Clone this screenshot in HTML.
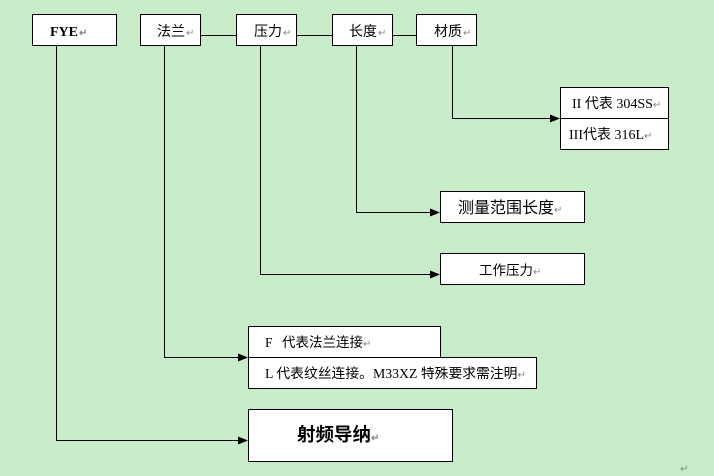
<!DOCTYPE html>
<html><head><meta charset="utf-8"><style>
html,body{margin:0;padding:0;background:#c8ecca;}
svg{display:block;}
text{font-family:"Liberation Serif","Noto Sans CJK SC",serif;fill:#000;}
.r{fill:#7a8a7a;font-family:"Liberation Sans",sans-serif;font-size:10px;}
</style></head><body>
<svg width="714" height="476" viewBox="0 0 714 476" xmlns="http://www.w3.org/2000/svg">
<rect x="0" y="0" width="714" height="476" fill="#c8ecca"/>
<g stroke="#000" stroke-width="1" fill="none">
  <path d="M56.5 45 V440.5 H240"/>
  <path d="M164.5 45 V357.5 H240"/>
  <path d="M260.5 45 V274.5 H432"/>
  <path d="M356.5 45 V212.5 H432"/>
  <path d="M452.5 45 V118.5 H552"/>
  <path d="M200 35.5 H236 M296 35.5 H332 M392 35.5 H416"/>
</g>
<g fill="#000">
  <polygon points="248,440.5 238,436.5 238,444.5"/>
  <polygon points="248,357.5 238,353.5 238,361.5"/>
  <polygon points="440,274.5 430,270.5 430,278.5"/>
  <polygon points="440,212.5 430,208.5 430,216.5"/>
  <polygon points="560,118.5 550,114.5 550,122.5"/>
</g>
<g fill="#fff" stroke="#000" stroke-width="1">
  <rect x="32.5" y="14.5" width="84" height="31"/>
  <rect x="140.5" y="14.5" width="60" height="31"/>
  <rect x="236.5" y="14.5" width="60" height="31"/>
  <rect x="332.5" y="14.5" width="60" height="31"/>
  <rect x="416.5" y="14.5" width="60" height="31"/>
  <rect x="560.5" y="87.5" width="108" height="31"/>
  <rect x="560.5" y="118.5" width="108" height="31"/>
  <rect x="440.5" y="191.5" width="144" height="31"/>
  <rect x="440.5" y="253.5" width="144" height="31"/>
  <rect x="248.5" y="326.5" width="192" height="31"/>
  <rect x="248.5" y="357.5" width="288" height="31"/>
  <rect x="248.5" y="409.5" width="204" height="52"/>
</g>
<text x="50" y="36" font-size="14" font-weight="bold">FYE<tspan class="r" dx="1">↵</tspan></text>
<text x="157" y="36" font-size="14">法兰<tspan class="r" dx="1">↵</tspan></text>
<text x="254" y="36" font-size="14">压力<tspan class="r" dx="1">↵</tspan></text>
<text x="349" y="36" font-size="14">长度<tspan class="r" dx="1">↵</tspan></text>
<text x="434" y="36" font-size="14">材质<tspan class="r" dx="1">↵</tspan></text>
<text x="572" y="108" font-size="14">II 代表 304SS<tspan class="r">↵</tspan></text>
<text x="569" y="139" font-size="14">III代表 316L<tspan class="r">↵</tspan></text>
<text x="458" y="213" font-size="16">测量范围长度<tspan class="r">↵</tspan></text>
<text x="479" y="275" font-size="13.5">工作压力<tspan class="r">↵</tspan></text>
<text x="265" y="347" font-size="13.5">F<tspan x="282">代表法兰连接</tspan><tspan class="r">↵</tspan></text>
<text x="265" y="378" font-size="13.8">L 代表纹丝连接。M33XZ 特殊要求需注明<tspan class="r">↵</tspan></text>
<text x="297" y="441" font-size="18.5" font-weight="bold">射频导纳<tspan class="r">↵</tspan></text>
<text class="r" x="680" y="472">↵</text>
</svg>
</body></html>
